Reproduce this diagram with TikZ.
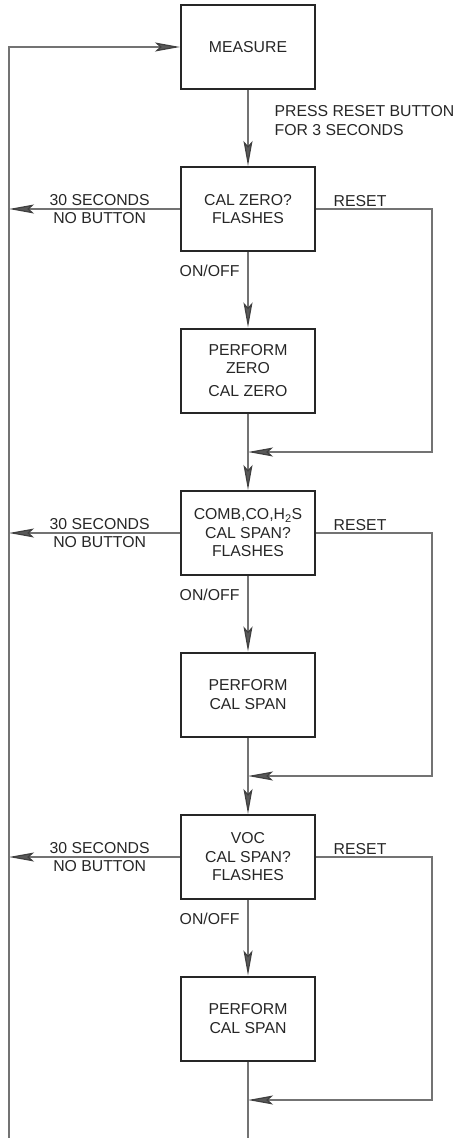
\documentclass[tikz,border=0pt]{standalone}
\usepackage{fontspec}
\setmainfont{Liberation Sans}
\usetikzlibrary{arrows.meta}
\tikzset{
    box/.style={draw=black!85, line width=2pt, minimum width=134pt, minimum height=84pt,
        align=center, text=black!85, inner sep=2pt},
    link/.style={draw=gray!90!black, line width=1.2pt},
    lbl/.style={text=black!85, align=center, inner sep=2pt},
    >={Stealth[length=25pt, width=9pt, inset=5pt, color=black!75, fill=gray!70!black]}
}
\begin{document}
\begin{tikzpicture}[x=1pt, y=-1pt, font=\fontsize{15.8}{18.5}\selectfont]
    \useasboundingbox (0,0) rectangle (459,1138);
    \def\xm{248}
    \def\xl{9}
    \def\xr{432}
    % start state
    \node[box] (measure) at (\xm,47) {MEASURE};
    \coordinate (top) at (\xl,47);
    \coordinate (bot) at (\xl,1138);
    \coordinate (end) at (\xm,1138);
    % one question box, one perform box and a reset loop for each gas
    \foreach \n/\y/\q/\p in {1/209/{CAL ZERO?\\FLASHES}/{PERFORM\\ZERO\\[4pt]CAL ZERO},
        2/533/{COMB,CO,H\textsubscript{2}S\\CAL SPAN?\\FLASHES}/{PERFORM\\CAL SPAN},
        3/857/{VOC\\CAL SPAN?\\FLASHES}/{PERFORM\\CAL SPAN}}{%
        \node[box] (ask\n) at (\xm,\y) {\q};
        \node[box] (do\n) at (\xm,\y+161.5) {\p};
        \coordinate (back\n) at (\xl,\y);
        \coordinate (rt\n) at (\xr,\y);
        \coordinate (rb\n) at (\xr,\y+243);
        \coordinate (join\n) at (\xm,\y+243);
        \draw[link,->] (ask\n) -- (back\n)
            node[lbl, pos=0.47] {30 SECONDS\\NO BUTTON};
        \draw[link,->] (ask\n) -- (do\n)
            node[lbl, pos=0.25, left, xshift=-6pt] {ON/OFF};
        \draw[link,->] (ask\n) -- (rt\n) node[lbl, pos=0.38, above] {RESET}
            -- (rb\n) -- (join\n);
    }
    % main flow
    \draw[link,->] (measure) -- (ask1)
        node[lbl, align=left, pos=0.4, right=24pt] {PRESS RESET BUTTON\\FOR 3 SECONDS};
    \draw[link,->] (do1) -- (ask2);
    \draw[link,->] (do2) -- (ask3);
    \draw[link] (do3) -- (end);
    % timeout return line
    \draw[link,->] (bot) -- (top) -- (measure);
\end{tikzpicture}
\end{document}
